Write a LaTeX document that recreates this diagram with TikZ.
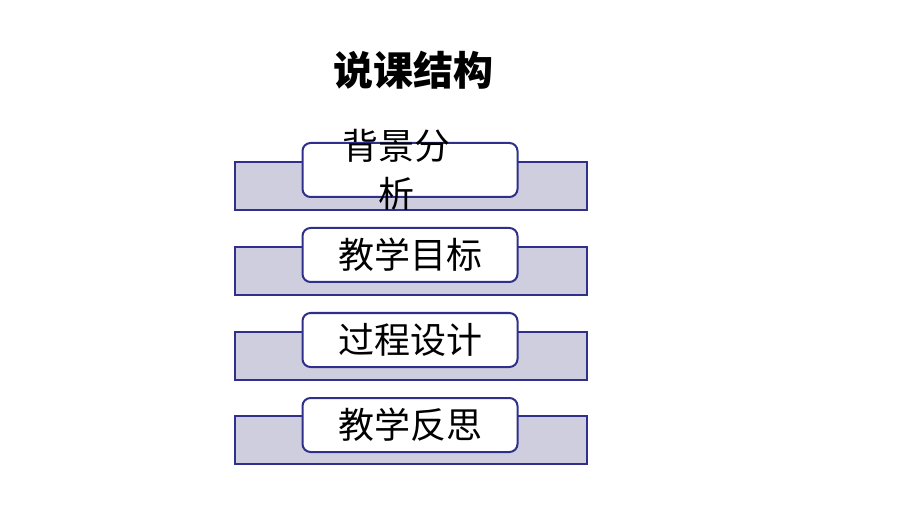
\documentclass[tikz,border=0pt]{standalone}
\usepackage{fontspec}
\setmainfont{Noto Sans CJK SC}
\usetikzlibrary{positioning}
\definecolor{barfill}{RGB}{206,206,222}
\definecolor{barline}{RGB}{48,48,140}
\tikzset{
    bar/.style={draw=barline, line width=2pt, fill=barfill, minimum width=352pt, minimum height=48pt},
    tab/.style={draw=barline, line width=2pt, fill=white, rounded corners=8pt,
        minimum width=215pt, minimum height=54pt, font=\fontsize{36}{44}\selectfont},
}
\begin{document}
\begin{tikzpicture}[x=1pt,y=-1pt]
	\useasboundingbox (0,0) rectangle (920,518);
	\node[font=\fontsize{40}{48}\selectfont\bfseries] (title) at (413,70) {说课结构};
	\node[bar] (b1) at (411,186) {};
	\node[bar] (b2) at (411,271) {};
	\node[bar] (b3) at (411,356) {};
	\node[bar] (b4) at (411,440) {};
	\node[tab] (t1) at (410,170) {};
	\node[font=\fontsize{36}{48}\selectfont, align=center] (l1) at (396,170) {背景分\\析};
	\node[tab] (t2) at (410,255) {教学目标};
	\node[tab] (t3) at (410,340) {过程设计};
	\node[tab] (t4) at (410,425) {教学反思};
\end{tikzpicture}
\end{document}
